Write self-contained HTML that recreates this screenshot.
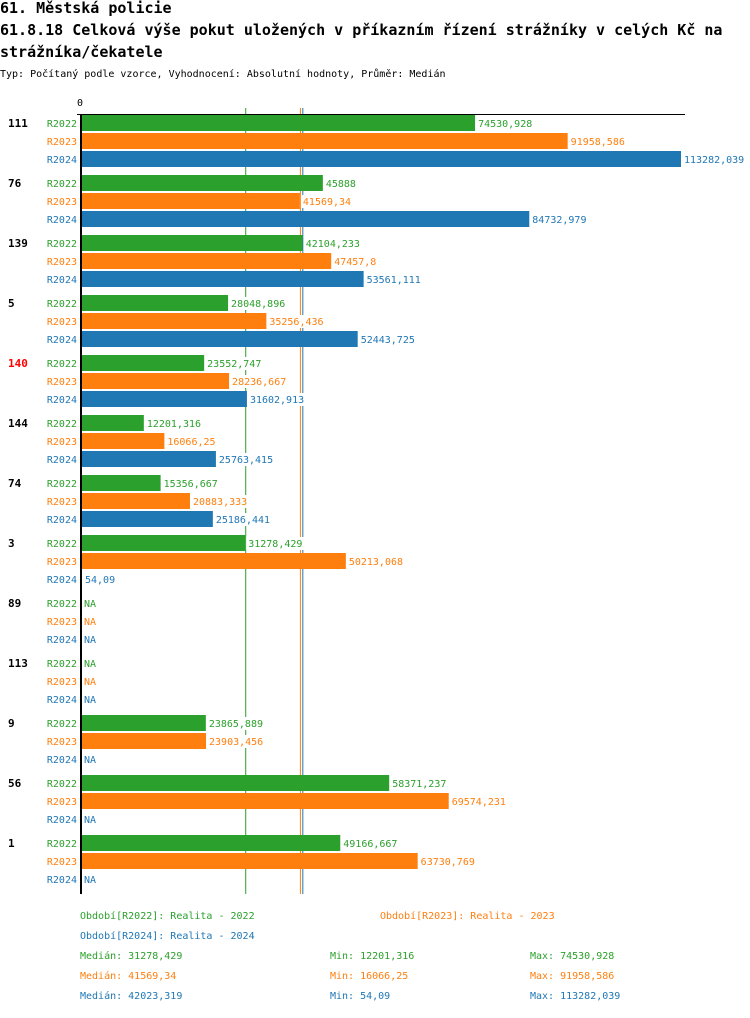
<!DOCTYPE html>
<html><head><meta charset="utf-8"><style>
body{margin:0;background:#fff;width:750px;height:1014px;overflow:hidden;font-family:"DejaVu Sans Mono","Liberation Mono",monospace}
svg text{font-family:"DejaVu Sans Mono","Liberation Mono",monospace}
</style></head><body>
<svg id="chart" width="750" height="1014" xmlns="http://www.w3.org/2000/svg">
<text x="0" y="13" font-size="15" font-weight="bold">61. Městská policie</text>
<text x="0" y="35" font-size="15" font-weight="bold">61.8.18 Celková výše pokut uložených v příkazním řízení strážníky v celých Kč na</text>
<text x="0" y="57" font-size="15" font-weight="bold">strážníka/čekatele</text>
<text x="0" y="77" font-size="10">Typ: Počítaný podle vzorce, Vyhodnocení: Absolutní hodnoty, Průměr: Medián</text>
<g id="marks"></g>
</svg>
<script>
const categories=["111","76","139","5","140","144","74","3","89","113","9","56","1"];
const highlight=["140"];
const seriesNames=["R2022","R2023","R2024"];
const s2022=[74530.928,45888,42104.233,28048.896,23552.747,12201.316,15356.667,31278.429,null,null,23865.889,58371.237,49166.667];
const s2023=[91958.586,41569.34,47457.8,35256.436,28236.667,16066.25,20883.333,50213.068,null,null,23903.456,69574.231,63730.769];
const s2024=[113282.039,84732.979,53561.111,52443.725,31602.913,25763.415,25186.441,54.09,null,null,null,null,null];
const medians=[31278.429,41569.34,42023.319];
const mins=[12201.316,16066.25,54.09];
const maxs=[74530.928,91958.586,113282.039];
const series=[s2022,s2023,s2024];
const colors=["#2ca02c","#ff7f0e","#1f77b4"];
const NS="http://www.w3.org/2000/svg";
const g=document.getElementById("marks");
const x0=79,xMax=113282.039,pxW=602;
const xs=v=>x0+v/xMax*pxW;
const top0=114,groupH=60,rowH=18;
const yRow=(i,j)=>top0+1+i*groupH+j*rowH;
const fmt=v=>String(Math.round(v*1000)/1000).replace(".",",");
function el(t,a,p){const e=document.createElementNS(NS,t);for(const k in a)e.setAttribute(k,a[k]);(p||g).appendChild(e);return e;}
function txt(x,y,s,fill,size,anchor,weight){const e=el("text",{x:x,y:y,fill:fill,"font-size":size,"text-anchor":anchor||"start","font-weight":weight||"normal"});e.textContent=s;return e;}
const bottom=top0+categories.length*groupH;
medians.forEach((m,j)=>{
  const l=el("line",{x1:xs(m)+0.5,x2:xs(m)+0.5,y1:108,y2:bottom,stroke:colors[j],"stroke-width":1});
  
  
});
categories.forEach((c,i)=>{
  const lab=txt(8,yRow(i,0)+12,c,highlight.includes(c)?"#ff0000":"#000",11,"start","bold");
  
  
  series.forEach((s,j)=>{
    const y=yRow(i,j);
    const sl=txt(77,y+12,seriesNames[j],colors[j],10,"end");
    
    
    const v=s[i];
    if(v===null){
      const na=txt(84,y+12,"NA",colors[j],10);
      
      
    }else{
      const w=Math.max(0,xs(v)-82);
      const r=el("rect",{x:82,y:y,width:w,height:16,fill:colors[j]});
      
      
      const s2=fmt(v);
      const bg=el("rect",{x:82+w+1,y:y+2,width:s2.length*6+4,height:13,fill:"#fff"});
      
      
      const vl=txt(82+w+3,y+12,s2,colors[j],10);
      
      
    }
  });
});
const ax=el("rect",{x:80,y:top0,width:2,height:bottom-top0,fill:"#000"});


const tx=el("rect",{x:77,y:top0,width:608,height:1,fill:"#000"});


const z=txt(80,106,"0","#000",10,"middle");


const leg=[[80,919,"Období[R2022]: Realita - 2022",0],[380,919,"Období[R2023]: Realita - 2023",1],[80,939,"Období[R2024]: Realita - 2024",2]];
leg.forEach(a=>{const t=txt(a[0],a[1],a[2],colors[a[3]],10);
  
  });
for(let j=0;j<3;j++){
  const y=959+j*20;
  const a=txt(80,y,"Medián: "+fmt(medians[j]),colors[j],10);
  
  
  const b=txt(330,y,"Min: "+fmt(mins[j]),colors[j],10);
  
  
  const d=txt(530,y,"Max: "+fmt(maxs[j]),colors[j],10);
  
  
}
</script>
</body></html>
